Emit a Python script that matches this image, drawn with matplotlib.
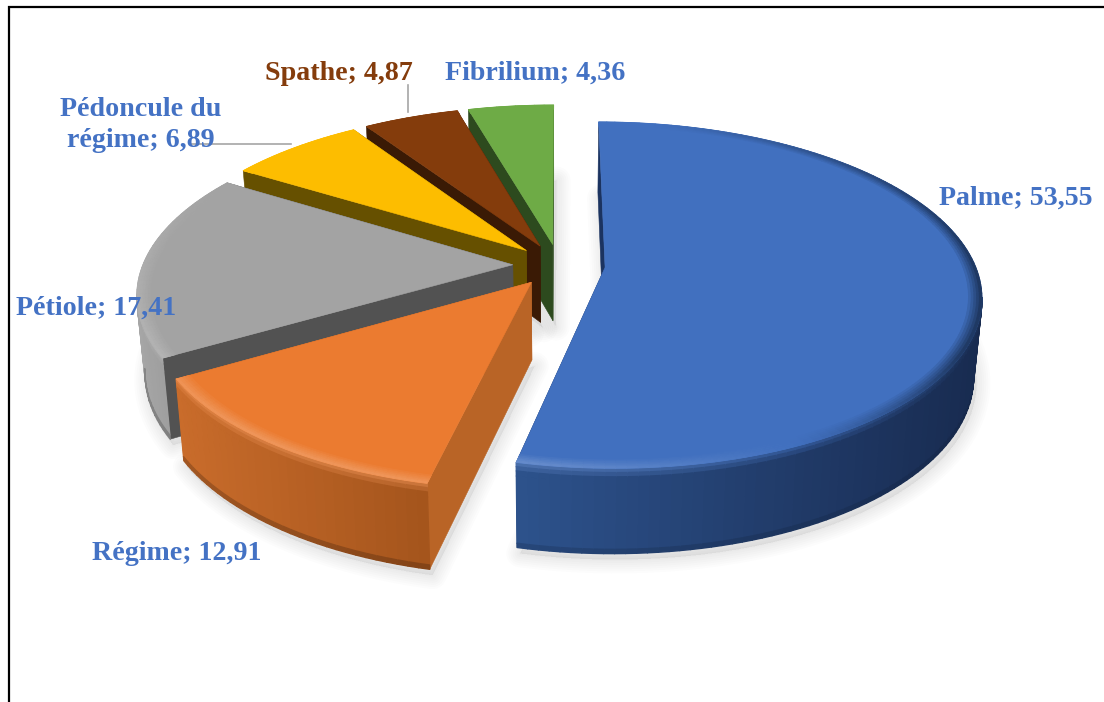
import numpy as np
import matplotlib
matplotlib.use("Agg")
import matplotlib.pyplot as plt
from matplotlib.collections import PolyCollection
from matplotlib.colors import to_rgb
from matplotlib.patches import Polygon

categories = ["Palme", "Régime", "Pétiole", "Pédoncule du\nrégime", "Spathe", "Fibrilium"]
values = [53.55, 12.91, 17.41, 6.89, 4.87, 4.36]
value_labels = ["53,55", "12,91", "17,41", "6,89", "4,87", "4,36"]

top_colors = ["#4170bf", "#eb7b30", "#a3a3a3", "#fdbd00", "#843c0c", "#6eab46"]
face_colors = ["#1b3360", "#b96426", "#525252", "#665000", "#3a1a05", "#2d4a1e"]
wall_left = ["#2d528c", "#c96c2b", "#a6a6a6", "#665000", "#3a1a05", "#2d4a1e"]
wall_right = ["#182b50", "#a4541c", "#8a8a8a", "#665000", "#3a1a05", "#2d4a1e"]
label_colors = ["#4472c4", "#4472c4", "#4472c4", "#4472c4", "#843c0c", "#4472c4"]
label_pos = [(1016, 198), (177, 553), (96, 308), (141, 125), (339, 73), (535, 73)]

# pie plane -> pixels (perspective, back of the pie is smaller)
CX, CY = 559, 265
RX, RY = 370, 168
PERSP = 0.16
DEPTH = 77
EXPLODE = 0.125


def project(u, v, z=0.0):
    w = 1 + PERSP * v
    x = CX + RX * u / w * (1 - 0.02 * z)
    y = CY - RY * v / w + DEPTH * z / (1 + 0.6 * PERSP * v)
    return np.column_stack([x, y])


def mix(a, b, t):
    a, b = np.array(to_rgb(a)), np.array(to_rgb(b))
    return tuple(a + (b - a) * t)


def rim_color(col, angle, f):
    # light towards the front left, dark towards the right
    net = max(np.cos(angle - np.radians(210)), 0) - max(np.cos(angle - np.radians(100)), 0)
    if net > 0:
        return mix(col, "#ffffff", 0.2 * net * f)
    return mix(col, "#0c1a30", 0.65 * -net * f)


def quads(ax, polys, colors, zorder, lw=1.0):
    ax.add_collection(PolyCollection(polys, facecolors=colors, edgecolors=colors,
                                     linewidths=lw, zorder=zorder))


fig = plt.figure(figsize=(11.04, 7.02), dpi=100, facecolor="white")
ax = fig.add_axes([0, 0, 1, 1])
ax.set_xlim(0, 1104)
ax.set_ylim(702, 0)
ax.axis("off")

# slice angles, clockwise from the top
edges = np.concatenate([[0], np.cumsum(values)]) / np.sum(values) * 2 * np.pi
slices = []
for i in range(len(values)):
    a0, a1 = edges[i], edges[i + 1]
    mid = (a0 + a1) / 2
    slices.append((a0, a1, EXPLODE * np.sin(mid), EXPLODE * np.cos(mid)))

# soft shadow under everything
for a0, a1, du, dv in slices:
    t = np.linspace(a0, a1, 80)
    u = np.concatenate([[du], du + np.sin(t)])
    v = np.concatenate([[dv], dv + np.cos(t)])
    outline = project(u, v, 1.0) + np.array([3, 6])
    for lw in [20, 17, 14, 11, 8, 5, 2]:
        ax.add_patch(Polygon(outline, closed=True, fc=(0, 0, 0, 0.008),
                             ec=(0, 0, 0, 0.012), lw=lw, joinstyle="round", zorder=1))

# back slices first, the big one last
order = [5, 4, 3, 2, 1, 0]
z = 2
for i in order:
    a0, a1, du, dv = slices[i]
    t = np.linspace(a0, a1, max(int((a1 - a0) * 40), 8))
    u, v = du + np.sin(t), dv + np.cos(t)

    # cut faces
    for a in (a0, a1):
        eu, ev = du + np.sin(a), dv + np.cos(a)
        pu, pv = np.array([du, eu, eu, du]), np.array([dv, ev, ev, dv])
        upper = project(pu[:2], pv[:2])
        lower = project(pu[2:], pv[2:], 1.0)
        ax.add_patch(Polygon(np.vstack([upper, lower]), closed=True, fc=face_colors[i],
                             ec=face_colors[i], lw=0.4, zorder=z))
    z += 1

    # outer wall, only the part turned to the viewer (arc runs leftwards on screen)
    top = project(u, v)
    xmin, xmax = top[:, 0].min(), top[:, 0].max()
    polys, colors = [], []
    bands = [0.0, 0.05, 0.1, 0.16, 0.95, 1.0]
    for k in range(len(t) - 1):
        if top[k + 1, 0] >= top[k, 0]:
            continue
        am = (t[k] + t[k + 1]) / 2
        s = ((top[k, 0] + top[k + 1, 0]) / 2 - xmin) / max(xmax - xmin, 1)
        base = mix(wall_left[i], wall_right[i], s)
        edge = rim_color(top_colors[i], am, 1.0)
        for b in range(len(bands) - 1):
            zt, zb = bands[b], bands[b + 1]
            p = np.vstack([project(u[k:k + 2], v[k:k + 2], zt),
                           project(u[k:k + 2], v[k:k + 2], zb)[::-1]])
            polys.append(p)
            if zb <= 0.16 and i <= 2:
                colors.append(mix(edge, base, min(zb / 0.16, 1) ** 0.6))
            elif zb == 1.0 and i <= 2:
                colors.append(mix(base, "#0c1a30" if i == 0 else "#000000", 0.2))
            else:
                colors.append(base)
    if polys:
        quads(ax, polys, colors, z)
    z += 1

    # top face
    tt = np.concatenate([[du], u])
    ax.add_patch(Polygon(project(tt, np.concatenate([[dv], v])), closed=True,
                         fc=top_colors[i], ec=top_colors[i], lw=0.4, zorder=z))
    z += 1

    # bevelled rim
    polys, colors = [], []
    rings = np.linspace(0.965, 1.0, 6)
    for k in range(len(t) - 1):
        am = (t[k] + t[k + 1]) / 2
        for b in range(len(rings) - 1):
            r0, r1 = rings[b], rings[b + 1]
            p = np.vstack([project(du + r0 * np.sin(t[k:k + 2]), dv + r0 * np.cos(t[k:k + 2])),
                           project(du + r1 * np.sin(t[k:k + 2]), dv + r1 * np.cos(t[k:k + 2]))[::-1]])
            polys.append(p)
            colors.append(rim_color(top_colors[i], am, (b + 1) / (len(rings) - 1)))
    quads(ax, polys, colors, z, lw=0.6)
    z += 1

# leader lines
ax.plot([190, 291], [143.5, 143.5], color="#a6a6a6", lw=1.2, zorder=z)
ax.plot([408, 408], [85, 112], color="#a6a6a6", lw=1.2, zorder=z)
z += 1

# labels
for name, val, col, (x, y) in zip(categories, value_labels, label_colors, label_pos):
    ax.text(x, y, f"{name}; {val}", color=col, fontsize=20.2, fontweight="bold",
            family="Liberation Serif", ha="center", va="center", linespacing=1.32, zorder=z)

# border of the frame, only left and top are in the picture
ax.plot([8.5, 8.5, 1104], [702, 6.5, 6.5], color="black", lw=1.6,
        solid_joinstyle="miter", zorder=z + 1)

fig.savefig("out.png", dpi=100)
